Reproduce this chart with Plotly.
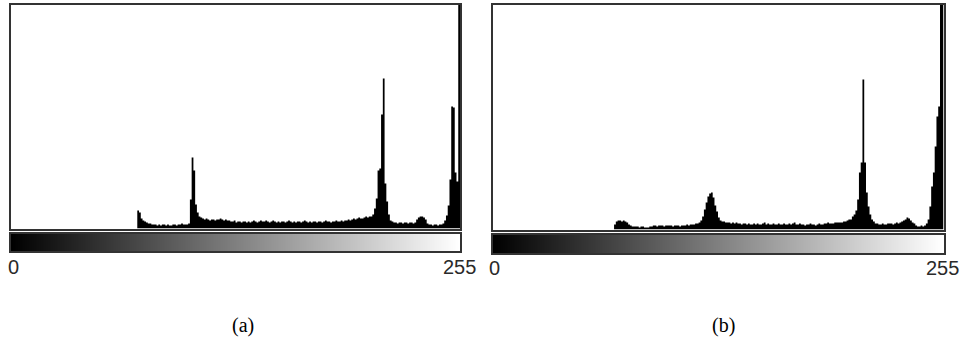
import plotly.graph_objects as go

# Gray levels (histogram bins)
GRAY_LEVELS = list(range(256))
TICK_LABELS = ["0", "255"]
PANEL_LABELS = ["(a)", "(b)"]

# Histogram counts (relative heights), panel (a)
HIST_A = [
    0, 0, 0, 0, 0, 0, 0, 0, 0, 0, 0, 0, 0, 0, 0, 0,
    0, 0, 0, 0, 0, 0, 0, 0, 0, 0, 0, 0, 0, 0, 0, 0,
    0, 0, 0, 0, 0, 0, 0, 0, 0, 0, 0, 0, 0, 0, 0, 0,
    0, 0, 0, 0, 0, 0, 0, 0, 0, 0, 0, 0, 0, 0, 0, 0,
    0, 0, 0, 0, 0, 0, 0, 0, 18, 16, 10, 8, 7, 6, 5, 5,
    4, 4, 4, 3, 4, 3, 4, 4, 3, 4, 3, 3, 4, 4, 3, 4,
    4, 5, 4, 4, 4, 5, 29, 71, 58, 24, 16, 12, 11, 10, 9, 10,
    9, 8, 9, 9, 8, 9, 9, 10, 9, 8, 9, 8, 8, 7, 7, 8,
    6, 7, 7, 6, 7, 7, 6, 7, 6, 7, 8, 7, 6, 7, 8, 7,
    7, 8, 7, 6, 7, 8, 7, 6, 7, 6, 7, 7, 6, 7, 8, 7,
    6, 7, 6, 7, 7, 6, 7, 8, 7, 6, 7, 6, 7, 7, 6, 7,
    7, 6, 7, 8, 7, 7, 6, 7, 7, 8, 7, 7, 8, 7, 8, 8,
    9, 8, 9, 10, 9, 10, 11, 10, 10, 11, 12, 11, 12, 12, 14, 20,
    30, 58, 60, 114, 150, 45, 27, 14, 8, 7, 6, 6, 5, 6, 6, 5,
    6, 6, 5, 6, 6, 5, 6, 9, 11, 12, 12, 11, 9, 5, 4, 4,
    3, 4, 4, 3, 4, 4, 5, 8, 13, 23, 49, 122, 121, 56, 47, 300,
]

# Histogram counts (relative heights), panel (b)
HIST_B = [
    0, 0, 0, 0, 0, 0, 0, 0, 0, 0, 0, 0, 0, 0, 0, 0,
    0, 0, 0, 0, 0, 0, 0, 0, 0, 0, 0, 0, 0, 0, 0, 0,
    0, 0, 0, 0, 0, 0, 0, 0, 0, 0, 0, 0, 0, 0, 0, 0,
    0, 0, 0, 0, 0, 0, 0, 0, 0, 0, 0, 0, 0, 0, 0, 0,
    0, 0, 0, 0, 0, 5, 8, 9, 9, 8, 9, 8, 7, 5, 4, 3,
    3, 3, 3, 2, 3, 3, 2, 2, 2, 3, 3, 4, 4, 3, 4, 4,
    4, 3, 4, 4, 4, 4, 3, 4, 4, 4, 3, 4, 4, 4, 5, 4,
    5, 5, 5, 6, 6, 7, 9, 13, 20, 27, 33, 36, 37, 32, 24, 18,
    12, 9, 8, 8, 7, 7, 7, 6, 7, 6, 7, 6, 6, 5, 6, 6,
    5, 6, 5, 5, 6, 5, 6, 5, 5, 6, 7, 5, 6, 5, 5, 6,
    5, 5, 6, 5, 5, 6, 5, 5, 6, 5, 6, 7, 5, 5, 6, 5,
    5, 4, 5, 5, 6, 5, 5, 4, 5, 6, 5, 5, 6, 6, 7, 6,
    6, 6, 7, 7, 7, 7, 7, 8, 8, 9, 10, 10, 13, 15, 19, 30,
    57, 67, 150, 67, 37, 23, 15, 10, 8, 6, 6, 5, 5, 6, 5, 5,
    6, 6, 6, 5, 6, 7, 6, 7, 8, 9, 10, 12, 11, 9, 7, 6,
    4, 3, 3, 4, 3, 4, 6, 10, 23, 43, 57, 83, 113, 123, 300, 300,
]

assert len(HIST_A) == 256 and len(HIST_B) == 256

W, H = 964, 338


def px_x(a, b):
    return [a / W, b / W]


def px_y(top, bottom):
    return [(H - bottom) / H, (H - top) / H]


FRAME = "#333333"
panels = [
    dict(hist=HIST_A, xdom=px_x(11, 460), hdom=px_y(5, 228.5), gdom=px_y(234, 251), yr=223.5,
         cap_x=243, label_y=267, label=PANEL_LABELS[0]),
    dict(hist=HIST_B, xdom=px_x(492.5, 943.5), hdom=px_y(5, 229.5), gdom=px_y(235, 253), yr=224.5,
         cap_x=723, label_y=268, label=PANEL_LABELS[1]),
]
TICK_POS = [1.2, 255.5]

fig = go.Figure()
layout = dict(
    template="none",
    width=W, height=H, margin=dict(l=0, r=0, t=0, b=0, pad=0, autoexpand=False),
    paper_bgcolor="white", plot_bgcolor="white", showlegend=False,
    annotations=[],
)

for i, p in enumerate(panels):
    n_h = 2 * i + 1
    n_g = 2 * i + 2
    xh = "x" if n_h == 1 else f"x{n_h}"
    yh = "y" if n_h == 1 else f"y{n_h}"
    xg, yg = f"x{n_g}", f"y{n_g}"
    xs = GRAY_LEVELS + [GRAY_LEVELS[-1] + 1]
    ys = p["hist"] + [p["hist"][-1]]
    fig.add_trace(go.Scatter(
        x=xs, y=ys, mode="lines", line=dict(shape="hv", width=0, color="black"),
        fill="tozeroy", fillcolor="black", xaxis=xh, yaxis=yh, hoverinfo="skip",
    ))
    fig.add_trace(go.Heatmap(
        z=[GRAY_LEVELS], x0=0.5, dx=1, y0=0, dy=1,
        colorscale=[[0, "black"], [1, "white"]], zmin=0, zmax=255,
        showscale=False, xaxis=xg, yaxis=yg, hoverinfo="skip",
    ))
    frame = dict(showgrid=False, zeroline=False, showline=True, mirror=True,
                 linecolor=FRAME, linewidth=2, ticks="", automargin=False,
                 showticklabels=False)
    kx_h = "xaxis" if n_h == 1 else f"xaxis{n_h}"
    ky_h = "yaxis" if n_h == 1 else f"yaxis{n_h}"
    layout[kx_h] = dict(frame, domain=p["xdom"], range=[0, 256], anchor=yh)
    layout[ky_h] = dict(frame, domain=p["hdom"], range=[0, p["yr"]], anchor=xh)
    layout[f"xaxis{n_g}"] = dict(frame, domain=p["xdom"], range=[0, 256], anchor=yg)
    layout[f"yaxis{n_g}"] = dict(frame, domain=p["gdom"], range=[-0.5, 0.5], anchor=xg)
    for pos, txt in zip(TICK_POS, TICK_LABELS):
        layout["annotations"].append(dict(
            text=txt, x=pos, xref=xg, y=(H - p["label_y"]) / H, yref="paper",
            xanchor="center", yanchor="middle", showarrow=False,
            font=dict(family="Liberation Sans, Arial", size=20, color="#2a2a2a"),
        ))
    layout["annotations"].append(dict(
        text=p["label"], x=p["cap_x"] / W, y=(H - 325.5) / H, xref="paper", yref="paper",
        xanchor="center", yanchor="middle", showarrow=False,
        font=dict(family="Liberation Serif, Times New Roman", size=20, color="black"),
    ))

fig.update_layout(**layout)
fig.write_html("out.html")
